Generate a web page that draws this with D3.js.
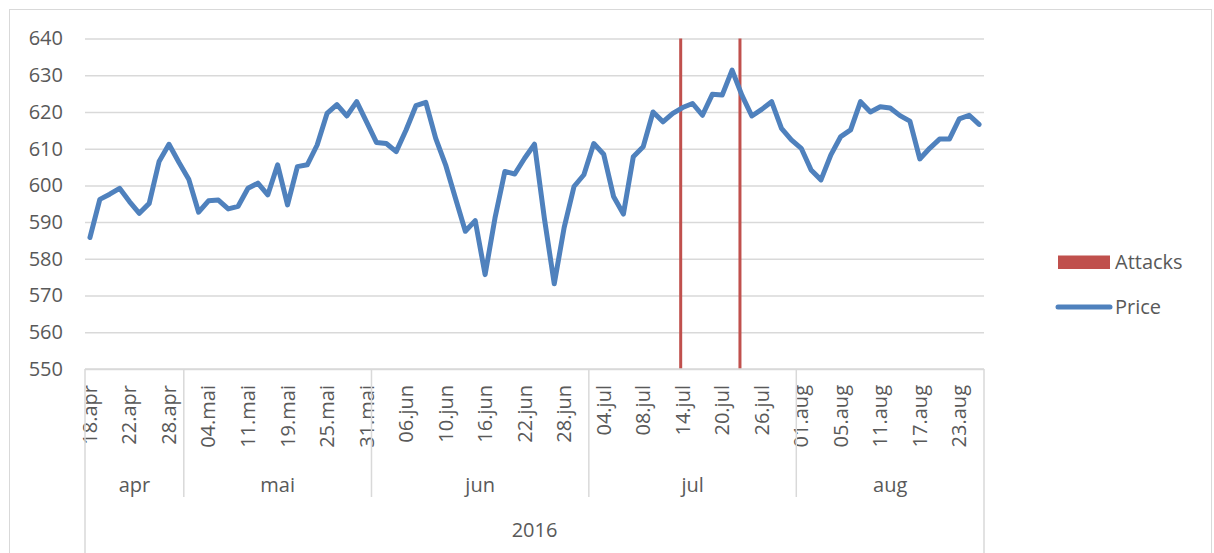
<!DOCTYPE html>
<html>
<head>
<meta charset="utf-8">
<script src="https://cdn.jsdelivr.net/npm/d3@7"></script>
<style>
  body { margin: 0; background: #fff; }
  text { font-family: "Open Sans", sans-serif; fill: #595959; }
</style>
</head>
<body>
<div id="okvir"></div>
<script>
// business days (apr - aug 2016)
const dates = [
  "18.apr","19.apr","20.apr","21.apr","22.apr","25.apr","26.apr","27.apr","28.apr","29.apr",
  "02.mai","03.mai","04.mai","06.mai","09.mai","10.mai","11.mai","12.mai","13.mai","18.mai",
  "19.mai","20.mai","23.mai","24.mai","25.mai","26.mai","27.mai","30.mai","31.mai",
  "01.jun","02.jun","03.jun","06.jun","07.jun","08.jun","09.jun","10.jun","13.jun","14.jun",
  "15.jun","16.jun","17.jun","20.jun","21.jun","22.jun","23.jun","24.jun","27.jun","28.jun",
  "29.jun","30.jun",
  "01.jul","04.jul","05.jul","06.jul","07.jul","08.jul","11.jul","12.jul","13.jul","14.jul",
  "15.jul","18.jul","19.jul","20.jul","21.jul","22.jul","25.jul","26.jul","27.jul","28.jul",
  "29.jul",
  "01.aug","02.aug","03.aug","04.aug","05.aug","08.aug","09.aug","10.aug","11.aug","12.aug",
  "15.aug","16.aug","17.aug","18.aug","19.aug","22.aug","23.aug","24.aug","25.aug"
];
const price = [
  585.8, 596.2, 597.6, 599.2, 595.6, 592.4, 595.1, 606.5, 611.2, 606.3,
  601.7, 592.7, 595.8, 596.0, 593.6, 594.3, 599.2, 600.6, 597.4, 605.6,
  594.7, 605.1, 605.6, 611.0, 619.6, 622.0, 618.9, 622.8, 617.3,
  611.7, 611.4, 609.2, 615.1, 621.7, 622.6, 612.8, 605.6, 596.5, 587.5,
  590.4, 575.7, 591.1, 603.8, 603.1, 607.4, 611.2, 591.0, 573.2, 588.5,
  599.7, 602.9,
  611.4, 608.5, 597.0, 592.2, 607.8, 610.5, 620.0, 617.3, 619.6, 621.2,
  622.3, 619.1, 624.8, 624.6, 631.4, 624.5, 618.9, 620.7, 622.8, 615.5,
  612.4,
  610.1, 604.2, 601.5, 608.3, 613.3, 615.1, 622.8, 620.0, 621.4, 621.1,
  619.0, 617.5, 607.2, 610.1, 612.6, 612.6, 618.1, 619.1, 616.6
];
const attackDates = ["14.jul", "22.jul"];
const attackValues = [640, 640];
const months = ["apr", "mai", "jun", "jul", "aug"];
const year = "2016";
const yTicks = [550, 560, 570, 580, 590, 600, 610, 620, 630, 640];
const seriesNames = ["Attacks", "Price"];

const crtajGraf = () => {
  const dimenzije = {
    width: 1214,
    height: 553,
    margin: { top: 38.5, right: 230, bottom: 184, left: 85 }
  };
  dimenzije.boundsWidth = dimenzije.width - dimenzije.margin.left - dimenzije.margin.right;
  dimenzije.boundsHeight = dimenzije.height - dimenzije.margin.top - dimenzije.margin.bottom;

  const okvir = d3.select("#okvir").append("svg")
    .attr("width", dimenzije.width)
    .attr("height", dimenzije.height);

  // chart frame
  okvir.append("rect")
    .attr("x", 9.5).attr("y", 9.5)
    .attr("width", 1202).attr("height", 600)
    .attr("fill", "none")
    .attr("stroke", "#d9d9d9");

  const granice = okvir.append("g")
    .attr("transform", `translate(${dimenzije.margin.left},${dimenzije.margin.top})`);

  const xMjerilo = d3.scaleBand()
    .domain(dates)
    .range([0, dimenzije.boundsWidth]);
  const bw = xMjerilo.bandwidth();
  const xc = d => xMjerilo(d) + bw / 2;

  const yMjerilo = d3.scaleLinear()
    .domain([550, 640])
    .range([dimenzije.boundsHeight, 0]);

  // gridlines + y labels
  const yOs = granice.append("g")
    .call(d3.axisLeft(yMjerilo).tickValues(yTicks).tickSize(-dimenzije.boundsWidth).tickPadding(22));
  yOs.select(".domain").remove();
  yOs.selectAll(".tick line").attr("stroke", "#d9d9d9").attr("stroke-width", 1.5);
  yOs.selectAll(".tick text")
    .attr("font-size", 20)
    .attr("fill", "#595959")
    .attr("font-family", "Open Sans, sans-serif");

  // attacks columns
  const barW = 3;
  granice.selectAll(".napad")
    .data(attackDates)
    .join("rect")
    .attr("class", "napad")
    .attr("x", d => xc(d) - barW / 2 - 2)
    .attr("y", (d, i) => yMjerilo(attackValues[i]))
    .attr("width", barW)
    .attr("height", (d, i) => yMjerilo(550) - yMjerilo(attackValues[i]))
    .attr("fill", "#c0504d");

  // price line
  const generatorLinije = d3.line()
    .x((d, i) => xc(dates[i]))
    .y(d => yMjerilo(d));
  granice.append("path")
    .attr("d", generatorLinije(price))
    .attr("fill", "none")
    .attr("stroke", "#4f81bd")
    .attr("stroke-width", 5)
    .attr("stroke-linejoin", "round")
    .attr("stroke-linecap", "round");

  // multi level category axis
  const osY = dimenzije.boundsHeight;
  const os = granice.append("g").attr("transform", `translate(0,${osY})`);
  os.append("line")
    .attr("x1", 0).attr("x2", dimenzije.boundsWidth)
    .attr("stroke", "#d9d9d9").attr("stroke-width", 1.5);

  os.selectAll(".dan")
    .data(dates.filter((d, i) => i % 4 === 0))
    .join("text")
    .attr("class", "dan")
    .attr("transform", d => `translate(${xc(d)},16) rotate(-90)`)
    .attr("text-anchor", "end")
    .attr("dy", "0.35em")
    .attr("font-size", 20)
    .text(d => d);

  // month groups
  const grupe = months.map(m => {
    const idx = dates.map((d, i) => d.endsWith("." + m) ? i : -1).filter(i => i >= 0);
    return {
      m,
      x0: xMjerilo(dates[idx[0]]),
      x1: xMjerilo(dates[idx[idx.length - 1]]) + bw
    };
  });
  const granicneX = [0, ...grupe.map(g => g.x1)];
  os.selectAll(".sep")
    .data(granicneX)
    .join("line")
    .attr("class", "sep")
    .attr("x1", d => d).attr("x2", d => d)
    .attr("y1", 0)
    .attr("y2", (d, i) => (i === 0 || i === granicneX.length - 1) ? 200 : 128)
    .attr("stroke", "#d9d9d9").attr("stroke-width", 1.5);

  os.selectAll(".mjesec")
    .data(grupe)
    .join("text")
    .attr("class", "mjesec")
    .attr("x", d => (d.x0 + d.x1) / 2)
    .attr("y", 116)
    .attr("dy", "0.35em")
    .attr("text-anchor", "middle")
    .attr("font-size", 20)
    .text(d => d.m);

  os.append("text")
    .attr("x", dimenzije.boundsWidth / 2)
    .attr("y", 161)
    .attr("dy", "0.35em")
    .attr("text-anchor", "middle")
    .attr("font-size", 20)
    .text(year);

  // legend
  const legenda = okvir.append("g").attr("transform", "translate(1057,0)");
  legenda.append("rect")
    .attr("x", 1).attr("y", 255.5)
    .attr("width", 52).attr("height", 13.5)
    .attr("fill", "#c0504d");
  legenda.append("line")
    .attr("x1", 1).attr("x2", 53)
    .attr("y1", 307).attr("y2", 307)
    .attr("stroke", "#4f81bd").attr("stroke-width", 5)
    .attr("stroke-linecap", "round");
  legenda.selectAll(".leg-tekst")
    .data(seriesNames)
    .join("text")
    .attr("class", "leg-tekst")
    .attr("x", 58)
    .attr("y", (d, i) => i === 0 ? 262 : 307)
    .attr("dy", "0.35em")
    .attr("font-size", 20)
    .text(d => d);
};

crtajGraf();
</script>
</body>
</html>
